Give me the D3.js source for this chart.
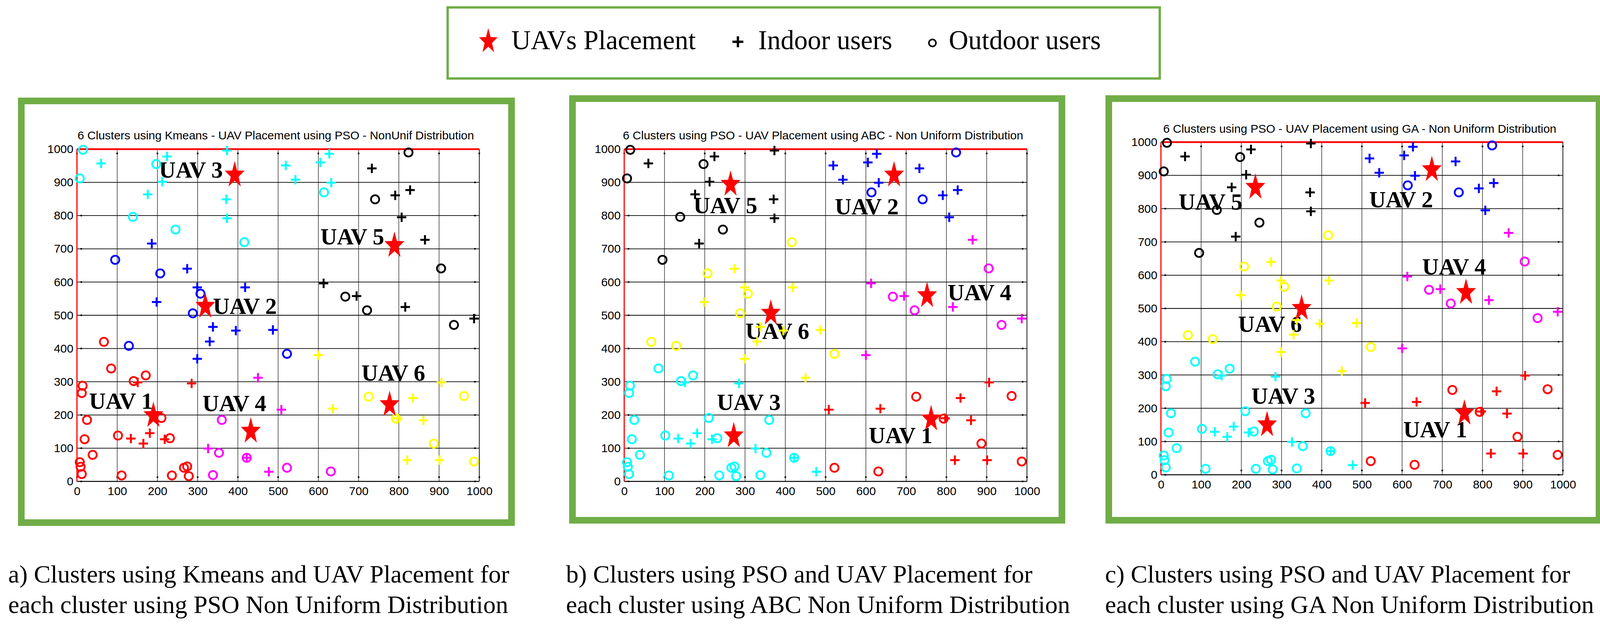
<!DOCTYPE html>
<html><head><meta charset="utf-8">
<script src="https://cdn.jsdelivr.net/npm/d3@7/dist/d3.min.js"></script>
<style>body{margin:0;background:#fff}svg{display:block}</style>
</head><body>
<svg id="chart" width="4133" height="1611"></svg>
<script>
// ---------- DATA ----------
const outdoorUsers = [[15,998],[197,955],[7,912],[139,796],[245,758],[416,720],[614,870],[824,990],[741,849],[905,641],[667,556],[721,515],[937,471],[95,667],[207,626],[307,565],[288,506],[129,408],[522,384],[67,420],[85,340],[171,319],[141,302],[14,288],[12,266],[25,185],[210,191],[102,138],[19,127],[231,130],[39,80],[7,58],[9,44],[12,22],[111,18],[236,18],[266,41],[274,45],[278,16],[360,185],[353,86],[422,71],[338,19],[522,41],[631,30],[725,255],[962,257],[793,189],[887,114],[987,60]];
const outdoorClusterA  = [3,3,3,3,3,3,3,5,5,5,5,5,5,2,2,2,2,2,2,1,1,1,1,1,1,1,1,1,1,1,1,1,1,1,1,1,1,1,1,4,4,4,4,4,4,6,6,6,6,6];
const outdoorClusterBC = [5,5,5,5,5,6,2,2,2,4,4,4,4,5,6,6,6,6,6,6,3,3,3,3,3,3,3,3,3,3,3,3,3,3,3,3,3,3,3,3,3,3,3,1,1,1,1,1,1,1];
const indoorUsers = [[60,957],[224,978],[212,902],[373,996],[176,864],[371,849],[373,792],[519,951],[627,986],[605,960],[543,908],[632,899],[733,942],[791,861],[828,877],[807,795],[865,727],[613,596],[695,558],[816,525],[987,490],[186,716],[274,640],[299,584],[418,584],[198,540],[338,465],[395,454],[487,456],[330,421],[299,369],[151,298],[285,295],[134,129],[181,145],[165,114],[218,127],[450,312],[508,216],[326,99],[422,71],[477,29],[600,380],[906,298],[835,251],[636,219],[797,190],[861,184],[821,64],[901,64]];
const indoorClusterA  = [3,3,3,3,3,3,3,3,3,3,3,3,5,5,5,5,5,5,5,5,5,2,2,2,2,2,2,2,2,2,2,1,1,1,1,1,1,4,4,4,4,4,6,6,6,6,6,6,6,6];
const indoorClusterBC = [5,5,5,5,5,5,5,2,2,2,2,2,2,2,2,2,4,4,4,4,4,5,6,6,6,6,6,6,6,6,6,3,3,3,3,3,3,6,1,3,3,3,4,1,1,1,1,1,1,1];
const uavNames = ["UAV 1","UAV 2","UAV 3","UAV 4","UAV 5","UAV 6"];
const uavA = [[190,198],[319,527],[392,922],[432,151],[789,710],[777,231]];
const uavB = [[762,188],[670,922],[272,137],[752,559],[264,894],[364,506]];
const uavC = [[755,185],[674,917],[264,150],[759,548],[235,864],[350,500]];
const labelA = [[30,218],[338,504],[204,914],[312,212],[605,713],[707,303]];
const labelB = [[607,115],[523,804],[230,215],[803,545],[172,807],[301,429]];
const labelC = [[603,113],[518,804],[225,214],[650,602],[44,797],[192,430]];
const titles = [
  "6 Clusters using Kmeans - UAV Placement using PSO - NonUnif Distribution",
  "6 Clusters using PSO - UAV Placement using ABC - Non Uniform Distribution",
  "6 Clusters using PSO - UAV Placement using GA - Non Uniform Distribution"];
const captions = [
  ["a) Clusters using Kmeans and UAV Placement for","each cluster using PSO Non Uniform Distribution"],
  ["b) Clusters using PSO and UAV Placement for","each cluster using ABC Non Uniform Distribution"],
  ["c) Clusters using PSO and UAV Placement for","each cluster using GA Non Uniform Distribution"]];
const tickValues = [0,100,200,300,400,500,600,700,800,900,1000];
const legendLabels = ["UAVs Placement","Indoor users","Outdoor users"];
const clusterColors = {1:"#ff0000",2:"#0000ff",3:"#00ffff",4:"#ff00ff",5:"#000000",6:"#ffff00"};

// ---------- LAYOUT ----------
const GREEN = "#70ad47";
const panels = [
  {border:[46,250,1318,1347], px:[197,1227], py:[1233,382], title:[706,357], cap:21,
   uav:uavA, lab:labelA, cin:indoorClusterA, cout:outdoorClusterA},
  {border:[1457,244,2727,1341], px:[1598,2629], py:[1233,382], title:[2107,357], cap:1449,
   uav:uavB, lab:labelB, cin:indoorClusterBC, cout:outdoorClusterBC},
  {border:[2830,244,4102,1341], px:[2972,4001], py:[1216,364], title:[3481,340], cap:2829,
   uav:uavC, lab:labelC, cin:indoorClusterBC, cout:outdoorClusterBC}
];

const svg = d3.select("#chart");
svg.append("rect").attr("width",4133).attr("height",1611).attr("fill","#fff");

function starPath(R){
  const r = R*0.4, pts=[];
  for(let i=0;i<10;i++){
    const a = -Math.PI/2 + i*Math.PI/5, rr = i%2? r:R;
    pts.push([Math.cos(a)*rr*0.74, Math.sin(a)*rr]);
  }
  return "M"+pts.map(p=>p[0].toFixed(2)+","+p[1].toFixed(2)).join("L")+"Z";
}
const plusPath = s => `M${-s},0H${s}M0,${-s}V${s}`;

// Legend
const lg = svg.append("g");
lg.append("rect").attr("x",1146).attr("y",19).attr("width",1823).attr("height",182)
  .attr("fill","none").attr("stroke",GREEN).attr("stroke-width",6);
lg.append("path").attr("d",starPath(34)).attr("transform","translate(1250,106)").attr("fill","#ff0000");
lg.append("path").attr("d",plusPath(14)).attr("transform","translate(1889,107)").attr("stroke","#000").attr("stroke-width",6).attr("fill","none");
lg.append("circle").attr("cx",2387).attr("cy",110).attr("r",9).attr("fill","none").attr("stroke","#000").attr("stroke-width",4);
[[1309,legendLabels[0]],[1941,legendLabels[1]],[2429,legendLabels[2]]].forEach(([x,t])=>{
  lg.append("text").attr("x",x).attr("y",126).attr("font-family","Liberation Serif, Times New Roman, serif")
    .attr("font-size",69).attr("fill","#000").text(t);
});

panels.forEach((p,pi)=>{
  const g = svg.append("g");
  const [bx0,by0,bx1,by1] = p.border, bw=17;
  g.append("rect").attr("x",bx0+bw/2).attr("y",by0+bw/2).attr("width",bx1-bx0-bw).attr("height",by1-by0-bw)
    .attr("fill","#fff").attr("stroke",GREEN).attr("stroke-width",bw);
  const x = d3.scaleLinear().domain([0,1000]).range(p.px);
  const y = d3.scaleLinear().domain([0,1000]).range(p.py);

  // grid
  g.append("g").selectAll("line").data(tickValues).join("line")
    .attr("x1",d=>x(d)).attr("x2",d=>x(d)).attr("y1",y(0)).attr("y2",y(1000))
    .attr("stroke","#000").attr("stroke-width",1.2);
  g.append("g").selectAll("line").data(tickValues).join("line")
    .attr("y1",d=>y(d)).attr("y2",d=>y(d)).attr("x1",x(0)).attr("x2",x(1000))
    .attr("stroke","#000").attr("stroke-width",1.8);
  // tick dots
  const td = g.append("g").attr("fill","#000");
  tickValues.forEach(v=>{
    td.append("rect").attr("x",x(v)-2).attr("y",y(0)-13).attr("width",4).attr("height",4);
    td.append("rect").attr("x",x(v)-2).attr("y",y(1000)+9).attr("width",4).attr("height",4);
    td.append("rect").attr("x",x(0)+9).attr("y",y(v)-2).attr("width",4).attr("height",4);
    td.append("rect").attr("x",x(1000)-13).attr("y",y(v)-2).attr("width",4).attr("height",4);
  });
  // axes
  const xAxis = d3.axisBottom(x).tickValues(tickValues).tickSize(0).tickPadding(14).tickFormat(d3.format("d"));
  const yAxis = d3.axisLeft(y).tickValues(tickValues).tickSize(0).tickPadding(9).tickFormat(d3.format("d"));
  const ax = g.append("g").attr("transform",`translate(0,${y(0)})`).call(xAxis);
  const ay = g.append("g").attr("transform",`translate(${x(0)},0)`).call(yAxis);
  [ax,ay].forEach(a=>{
    a.select(".domain").remove();
    a.selectAll("text").attr("font-family","Liberation Sans, Arial, sans-serif").attr("font-size",30).attr("fill","#000");
  });
  g.append("line").attr("x1",x(0)).attr("x2",x(1000)).attr("y1",y(0)).attr("y2",y(0)).attr("stroke","#000").attr("stroke-width",2.5);
  g.append("line").attr("x1",x(1000)).attr("x2",x(1000)).attr("y1",y(0)).attr("y2",y(1000)).attr("stroke","#000").attr("stroke-width",1.5);
  g.append("line").attr("x1",x(0)).attr("x2",x(1000)).attr("y1",y(1000)).attr("y2",y(1000)).attr("stroke","#ff0000").attr("stroke-width",4.5);
  g.append("line").attr("x1",x(0)).attr("x2",x(0)).attr("y1",y(0)).attr("y2",y(1000)).attr("stroke","#ff0000").attr("stroke-width",3);

  // title
  g.append("text").attr("x",p.title[0]).attr("y",p.title[1]).attr("text-anchor","middle")
    .attr("font-family","Liberation Sans, Arial, sans-serif").attr("font-size",30).attr("fill","#000").text(titles[pi]);

  // UAV labels
  g.append("g").selectAll("text").data(p.lab).join("text")
    .attr("x",d=>x(d[0])).attr("y",d=>y(d[1]))
    .attr("font-family","Liberation Serif, Times New Roman, serif").attr("font-weight","bold")
    .attr("font-size",59).attr("fill","#000").text((d,i)=>uavNames[i]);

  // outdoor users
  g.append("g").selectAll("circle").data(outdoorUsers).join("circle")
    .attr("cx",d=>x(d[0])).attr("cy",d=>y(d[1])).attr("r",10.5)
    .attr("fill","none").attr("stroke",(d,i)=>clusterColors[p.cout[i]]).attr("stroke-width",4.5);
  // indoor users
  g.append("g").selectAll("path").data(indoorUsers).join("path")
    .attr("d",plusPath(12)).attr("transform",d=>`translate(${x(d[0])},${y(d[1])})`)
    .attr("fill","none").attr("stroke",(d,i)=>clusterColors[p.cin[i]]).attr("stroke-width",5);
  // UAVs
  g.append("g").selectAll("path").data(p.uav).join("path")
    .attr("d",starPath(36)).attr("transform",d=>`translate(${x(d[0])},${y(d[1])})`)
    .attr("fill","#ff0000");

  // caption
  const cap = g.append("text").attr("font-family","Liberation Serif, Times New Roman, serif")
    .attr("font-size",64).attr("fill","#000");
  captions[pi].forEach((line,li)=>{
    cap.append("tspan").attr("x",p.cap).attr("y",1492+li*78).text(line);
  });
});
</script>
</body></html>
